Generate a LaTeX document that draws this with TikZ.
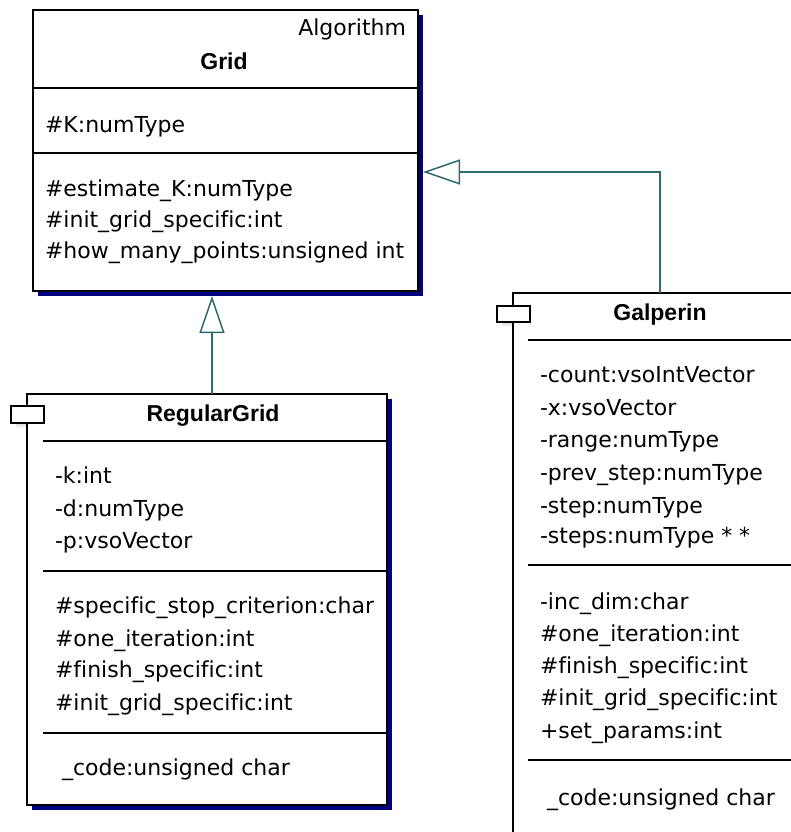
\documentclass[tikz,border=0pt]{standalone}
\usepackage{fontspec}
\setmainfont{DejaVu Sans}[Ligatures=NoCommon]
\newfontfamily\titlefont{Liberation Sans}
\usetikzlibrary{arrows.meta}
\definecolor{linkteal}{HTML}{2F6B6B}
\definecolor{shade}{HTML}{000080}
\begin{document}
\begin{tikzpicture}[x=1pt,y=-1pt,
  every node/.style={inner sep=0pt, outer sep=0pt},
  txt/.style={anchor=base west, font=\fontsize{22}{26}\selectfont},
  ttl/.style={anchor=base, font=\titlefont\fontsize{23}{27}\selectfont\bfseries},
  classbox/.style={rectangle, draw=black, fill=white, line width=1.4pt, anchor=north west},
  shadowbox/.style={rectangle, fill=shade, anchor=north west},
  iconbox/.style={draw=black, fill=white, line width=1.4pt},
  sep/.style={draw=black, line width=1.4pt},
  gen/.style={draw=linkteal, line width=1.5pt, -{Triangle[open, length=37pt, width=25pt]}},
]
\clip (0,0) rectangle (791,832);
\fill[white] (0,0) rectangle (791,832);

% ---------- Grid ----------
\node[shadowbox, minimum width=385pt, minimum height=281pt] (gridsh) at (38,15) {};
\node[classbox, minimum width=385pt, minimum height=281pt] (grid) at (33,10) {};
\node[anchor=base east, font=\fontsize{22}{26}\selectfont] (gridst) at (406,36) {Algorithm};
\node[ttl] (gridname) at (224,70) {Grid};
\draw[sep] (grid.west |- 0,88) -- (grid.east |- 0,88);
\node[txt] (ga1) at (45,132) {\#K:numType};
\draw[sep] (grid.west |- 0,153) -- (grid.east |- 0,153);
\node[txt] (gm1) at (45,196) {\#estimate\_K:numType};
\node[txt] (gm2) at (45,227) {\#init\_grid\_specific:int};
\node[txt] (gm3) at (45,258) {\#how\_many\_points:unsigned int};

% ---------- RegularGrid ----------
\node[shadowbox, minimum width=360pt, minimum height=411pt] (rgsh) at (32,399) {};
\fill[shade] (16,411) rectangle (49,428);
\node[classbox, minimum width=360pt, minimum height=411pt] (rg) at (27,394) {};
\path[iconbox] (11,406) rectangle (44,423);
\node[ttl] (rgname) at (213,421) {RegularGrid};
\draw[sep] (43,441) -- (rg.east |- 0,441);
\node[txt] (ra1) at (55,483) {-k:int};
\node[txt] (ra2) at (55,516) {-d:numType};
\node[txt] (ra3) at (55,548) {-p:vsoVector};
\draw[sep] (43,571) -- (rg.east |- 0,571);
\node[txt] (rm1) at (55,613) {\#specific\_stop\_criterion:char};
\node[txt] (rm2) at (55,646) {\#one\_iteration:int};
\node[txt] (rm3) at (55,677) {\#finish\_specific:int};
\node[txt] (rm4) at (55,710) {\#init\_grid\_specific:int};
\draw[sep] (43,733) -- (rg.east |- 0,733);
\node[txt] (rc1) at (62,775) {\_code:unsigned char};

% ---------- Galperin ----------
\fill[shade] (502,311) rectangle (535,327);
\node[classbox, minimum width=294pt, minimum height=560pt] (gal) at (513,293) {};
\path[iconbox] (497,306) rectangle (530,322);
\node[ttl] (galname) at (660,320) {Galperin};
\draw[sep] (528,340) -- (gal.east |- 0,340);
\node[txt] (pa1) at (540,382) {-count:vsoIntVector};
\node[txt] (pa2) at (540,415) {-x:vsoVector};
\node[txt] (pa3) at (540,447) {-range:numType};
\node[txt] (pa4) at (540,480) {-prev\_step:numType};
\node[txt] (pa5) at (540,513) {-step:numType};
\node[txt] (pa6) at (540,543) {-steps:numType * *};
\draw[sep] (528,565) -- (gal.east |- 0,565);
\node[txt] (pm1) at (540,609) {-inc\_dim:char};
\node[txt] (pm2) at (540,641) {\#one\_iteration:int};
\node[txt] (pm3) at (540,673) {\#finish\_specific:int};
\node[txt] (pm4) at (540,705) {\#init\_grid\_specific:int};
\node[txt] (pm5) at (540,738) {+set\_params:int};
\draw[sep] (528,760) -- (gal.east |- 0,760);
\node[txt] (pc1) at (547,805) {\_code:unsigned char};

% ---------- generalizations ----------
\draw[gen] ([xshift=5pt]rg.north) -- ([xshift=5pt]rg.north |- gridsh.south);
\draw[gen] (gal.north) |- (gridsh.east |- 0,172);
\end{tikzpicture}
\end{document}
